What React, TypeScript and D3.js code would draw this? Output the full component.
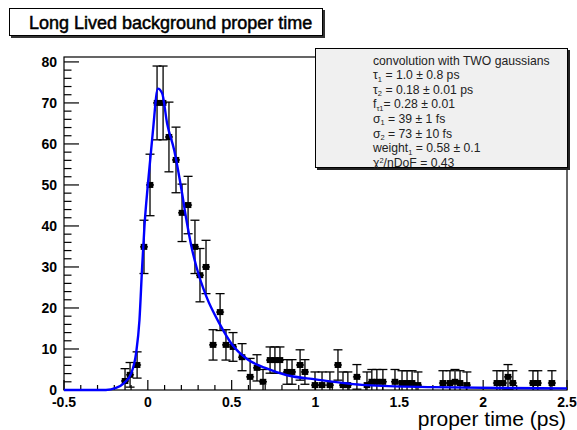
import React, { useEffect, useRef } from 'react';
import * as d3 from 'd3';

// proper time (ps) of each filled bin
const time_points = [-0.136, -0.106, -0.064, -0.023, 0.013, 0.055, 0.091, 0.126, 0.168, 0.204,
	0.240, 0.281, 0.311, 0.347, 0.389, 0.431, 0.466, 0.508, 0.562, 0.610,
	0.651, 0.687, 0.729, 0.758, 0.788, 0.830, 0.860, 0.908, 0.937, 0.997,
	1.039, 1.086, 1.134, 1.164, 1.193, 1.247, 1.307, 1.336, 1.366, 1.402,
	1.474, 1.516, 1.546, 1.576, 1.611, 1.760, 1.802, 1.832, 1.862, 1.903,
	2.082, 2.118, 2.148, 2.177, 2.297, 2.326, 2.410]
const counts = [2.2, 3.7, 6.1, 34.9, 50, 70, 70, 61.7, 56.1, 43.2,
	45.1, 34.9, 28, 30, 11, 19, 11, 10.5, 8, 3.2,
	5.4, 2, 7.3, 7.3, 7.3, 4.4, 4.4, 6.1, 4.4, 1.2,
	1.2, 1.2, 6.1, 1.2, 1.2, 3.2, 1.2, 2, 2, 2,
	2, 1.7, 1.7, 1.7, 1.2, 1.7, 1.7, 2, 1.7, 1.2,
	1.7, 1.7, 3.2, 1.7, 1.7, 1.7, 1.7]
const count_errors = [3, 3, 3.2, 6.5, 7.5, 9, 9, 8.5, 8, 7,
	7, 6.5, 6.5, 6.5, 3.7, 4.5, 3.7, 3.5, 3.3, 4.5,
	3.2, 3, 3.2, 3.2, 3.2, 3, 3, 3.7, 3, 3.2,
	3.2, 3.2, 3.7, 3.2, 3.2, 3, 3.2, 3, 3, 3,
	3, 3, 3, 3, 3.2, 3, 3, 3, 3, 3.2,
	3, 3, 3, 3, 3, 3, 3]

// fitted curve
const fit_time = [-0.5, -0.25, -0.19, -0.142, -0.1, -0.07, -0.05, -0.034, -0.02, 0.0,
	0.03, 0.06, 0.085, 0.115, 0.157, 0.2, 0.23, 0.26, 0.29, 0.35,
	0.43, 0.5, 0.6, 0.7, 0.83, 1.0, 1.3, 1.7, 2.1, 2.5]
const fit_value = [0, 0, 0.5, 1.7, 4, 9, 17, 30, 40, 50,
	63, 73.5, 72.4, 65, 58.5, 49, 41.5, 35, 30, 22.7,
	16, 11.2, 7.3, 5.4, 3.6, 2.6, 1.2, 0.7, 0.5, 0.4]

const x_ticks = [-0.5, 0, 0.5, 1, 1.5, 2, 2.5]
const y_ticks = [0, 10, 20, 30, 40, 50, 60, 70, 80]

const title_text = 'Long Lived background proper time'
const x_title = 'proper time (ps)'
const stats_lines = [
	'convolution with TWO gaussians',
	'τ_{1} = 1.0 ± 0.8 ps',
	'τ_{2} = 0.18 ± 0.01 ps',
	'f_{τ1}= 0.28 ± 0.01',
	'σ_{1} = 39  ± 1 fs',
	'σ_{2} = 73  ± 10 fs',
	'weight_{1} = 0.58 ± 0.1',
	'χ^{2}/nDoF = 0.43',
]

const font = 'Liberation Sans, Arial, Helvetica, sans-serif'

export default function App() {
	const ref = useRef<SVGSVGElement>(null)

	useEffect(() => {
		const svg = d3.select(ref.current)
		svg.selectAll('*').remove()

		const frame = { left: 64, right: 567, top: 57, bottom: 390 }
		const x = d3.scaleLinear().domain([-0.5, 2.5]).range([frame.left, frame.right])
		const y = d3.scaleLinear().domain([0, 81.2]).range([frame.bottom, frame.top])

		// title box
		svg.append('rect').attr('x', 11).attr('y', 10).attr('width', 314).attr('height', 28).attr('fill', '#333')
		svg.append('rect').attr('x', 9.5).attr('y', 8.5).attr('width', 313).attr('height', 27)
			.attr('fill', 'white').attr('stroke', 'black').attr('stroke-width', 1)
		svg.append('text').text(title_text)
			.attr('x', 29).attr('y', 29)
			.attr('font-family', font).attr('font-size', 18)
			.attr('fill', 'black').attr('stroke', 'black').attr('stroke-width', 0.5)

		// frame
		svg.append('rect')
			.attr('x', frame.left).attr('y', frame.top)
			.attr('width', frame.right - frame.left).attr('height', frame.bottom - frame.top)
			.attr('fill', 'none').attr('stroke', 'black').attr('stroke-width', 1.2)

		const axes = svg.append('g').attr('stroke', 'black').attr('stroke-width', 1.2)
		// x ticks, major every 0.5 and minor every 0.1
		d3.range(-5, 26).forEach(function(i) {
			const len = i % 5 === 0 ? 10 : 5
			axes.append('line')
				.attr('x1', x(i / 10)).attr('x2', x(i / 10))
				.attr('y1', frame.bottom).attr('y2', frame.bottom - len)
		})
		// y ticks, major every 10 and minor every 2
		d3.range(0, 41).forEach(function(i) {
			const len = i % 5 === 0 ? 15 : 7.5
			axes.append('line')
				.attr('x1', frame.left).attr('x2', frame.left + len)
				.attr('y1', y(i * 2)).attr('y2', y(i * 2))
		})

		svg.append('g').selectAll('text').data(x_ticks).enter().append('text')
			.text(d => String(d))
			.attr('x', d => x(d)).attr('y', 407)
			.attr('text-anchor', 'middle')
			.attr('font-family', font).attr('font-size', 14).attr('font-weight', 'bold')
		svg.append('g').selectAll('text').data(y_ticks).enter().append('text')
			.text(d => String(d))
			.attr('x', 57).attr('y', d => y(d) + 5)
			.attr('text-anchor', 'end')
			.attr('font-family', font).attr('font-size', 14).attr('font-weight', 'bold')

		svg.append('text').text(x_title)
			.attr('x', 566).attr('y', 426)
			.attr('text-anchor', 'end')
			.attr('font-family', font).attr('font-size', 21)

		// data points with error bars
		const pts = svg.append('g')
		time_points.forEach(function(t, i) {
			const cx = x(t)
			const cy = y(counts[i])
			const top = y(counts[i] + count_errors[i])
			const bot = y(Math.max(0, counts[i] - count_errors[i]))
			pts.append('line').attr('x1', cx).attr('x2', cx).attr('y1', top).attr('y2', bot)
				.attr('stroke', 'black').attr('stroke-width', 1.3)
			pts.append('line').attr('x1', cx - 4.5).attr('x2', cx + 4.5).attr('y1', top).attr('y2', top)
				.attr('stroke', 'black').attr('stroke-width', 1.3)
			if (counts[i] - count_errors[i] > 0) {
				pts.append('line').attr('x1', cx - 4.5).attr('x2', cx + 4.5).attr('y1', bot).attr('y2', bot)
					.attr('stroke', 'black').attr('stroke-width', 1.3)
			}
			pts.append('line').attr('x1', cx - 4).attr('x2', cx + 4).attr('y1', cy).attr('y2', cy)
				.attr('stroke', 'black').attr('stroke-width', 1.3)
			pts.append('rect').attr('x', cx - 3.3).attr('y', cy - 3).attr('width', 6.6).attr('height', 6)
				.attr('fill', 'black')
		})

		// fitted curve
		const fit = fit_time.map((t, i) => [t, fit_value[i]] as [number, number])
		const line = d3.line<[number, number]>()
			.x(d => x(d[0])).y(d => y(d[1]))
			.curve(d3.curveMonotoneX)
		svg.append('path').attr('d', line(fit))
			.attr('fill', 'none').attr('stroke', '#0000ff').attr('stroke-width', 2.4)

		// stats box
		svg.append('rect').attr('x', 317).attr('y', 50).attr('width', 253).attr('height', 120).attr('fill', '#222')
		svg.append('rect').attr('x', 315.5).attr('y', 48.5).attr('width', 252).attr('height', 119)
			.attr('fill', '#f0f0f0').attr('stroke', 'black').attr('stroke-width', 1)

		stats_lines.forEach(function(s, i) {
			const txt = svg.append('text')
				.attr('x', 373).attr('y', 64.5 + i * 14.6)
				.attr('font-family', font).attr('font-size', 12.2).attr('fill', '#222')
			// split "_{..}" and "^{..}" like TLatex
			const parts = s.split(/([_^]\{[^}]*\})/).filter(p => p.length > 0)
			let shift = 0
			parts.forEach(function(p) {
				let dy = 0
				let size = 12.2
				let content = p
				if (p[0] === '_' || p[0] === '^') {
					const want = p[0] === '_' ? 2.5 : -4
					dy = want - shift
					shift = want
					size = 7.5
					content = p.slice(2, -1)
				} else {
					dy = -shift
					shift = 0
				}
				txt.append('tspan').text(content).attr('dy', dy).attr('font-size', size)
			})
		})
	}, [])

	return (
		<svg ref={ref} width={577} height={430}
			style={{ position: 'absolute', left: 0, top: 0, background: 'white' }} />
	)
}
